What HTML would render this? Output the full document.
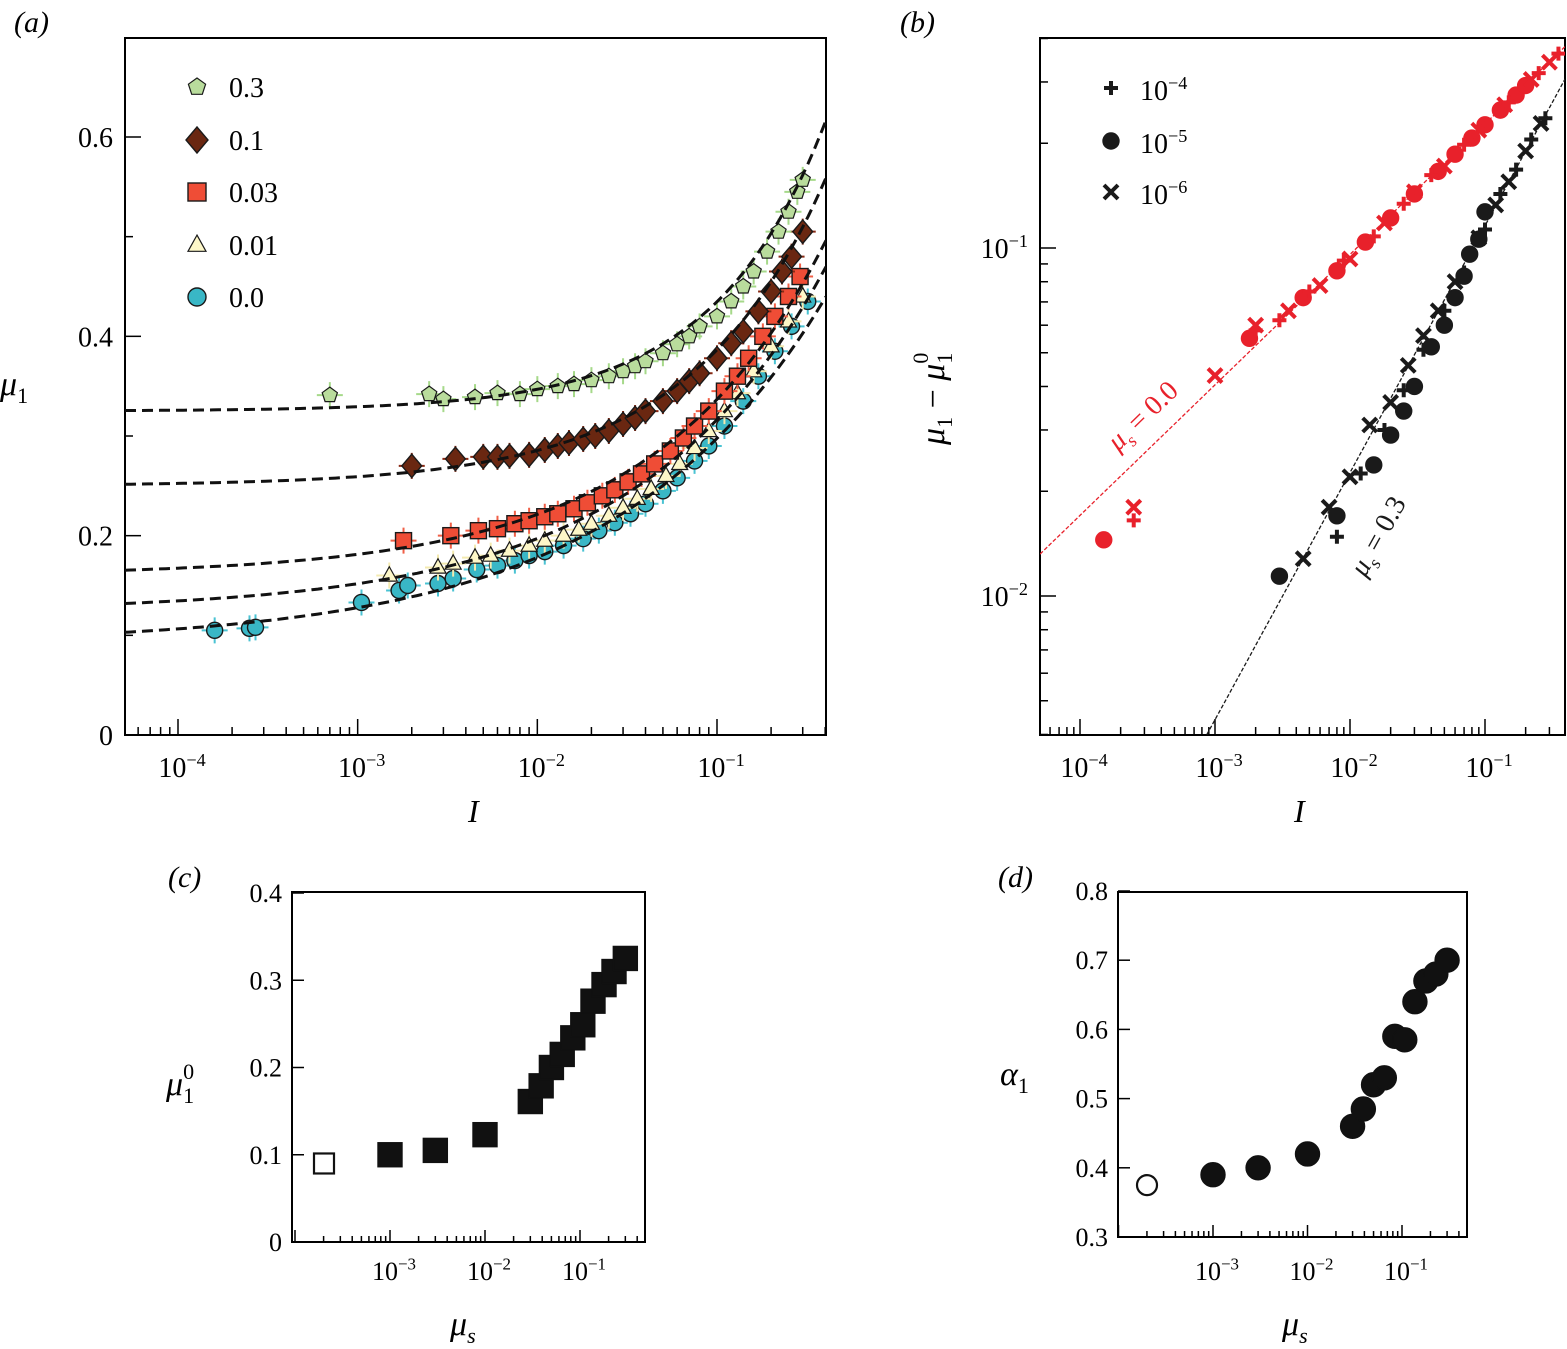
<!DOCTYPE html>
<html><head><meta charset="utf-8"><style>
html,body{margin:0;padding:0;background:#fff}
svg{display:block;font-family:"Liberation Serif",serif}
</style></head><body>
<svg id="fig" width="1567" height="1349" viewBox="0 0 1567 1349" xmlns="http://www.w3.org/2000/svg">
<rect width="1567" height="1349" fill="#fff"/>
<g id="ga"></g>
<g id="gb"></g>
<g id="gc"></g>
<g id="gd"></g>
</svg>
<script>
// ---------- Panel (a) data ----------
const aSeriesNames = ["0.3","0.1","0.03","0.01","0.0"];
const aI_03 = [7e-4,2.5e-3,3e-3,4.5e-3,6e-3,8e-3,0.01,0.013,0.016,0.02,0.025,0.03,0.035,0.04,0.05,0.06,0.07,0.08,0.1,0.12,0.14,0.16,0.19,0.22,0.25,0.28,0.3];
const aM_03 = [0.341,0.342,0.337,0.339,0.343,0.342,0.347,0.35,0.352,0.356,0.36,0.365,0.37,0.375,0.383,0.392,0.40,0.41,0.42,0.435,0.45,0.465,0.485,0.505,0.525,0.545,0.557];
const aI_01 = [2e-3,3.5e-3,5e-3,6e-3,7e-3,9e-3,0.011,0.013,0.015,0.018,0.021,0.025,0.03,0.035,0.04,0.05,0.06,0.07,0.08,0.1,0.12,0.14,0.17,0.2,0.23,0.26,0.3];
const aM_01 = [0.27,0.277,0.279,0.279,0.28,0.281,0.286,0.29,0.293,0.297,0.30,0.305,0.312,0.318,0.325,0.335,0.345,0.355,0.363,0.378,0.393,0.405,0.425,0.445,0.465,0.48,0.505];
const aI_003 = [1.8e-3,3.3e-3,4.7e-3,6e-3,7.5e-3,0.009,0.011,0.013,0.016,0.019,0.023,0.027,0.032,0.038,0.045,0.055,0.065,0.075,0.09,0.11,0.13,0.15,0.18,0.21,0.25,0.29];
const aM_003 = [0.195,0.2,0.205,0.207,0.212,0.215,0.219,0.222,0.227,0.233,0.24,0.246,0.254,0.262,0.272,0.285,0.298,0.31,0.325,0.345,0.36,0.378,0.4,0.42,0.44,0.46];
const aI_001 = [1.5e-3,2.8e-3,3.4e-3,4.5e-3,5.5e-3,7e-3,0.009,0.011,0.014,0.017,0.02,0.025,0.03,0.036,0.043,0.052,0.062,0.075,0.09,0.11,0.13,0.16,0.2,0.25,0.3];
const aM_001 = [0.16,0.168,0.172,0.178,0.18,0.185,0.19,0.195,0.2,0.206,0.212,0.22,0.228,0.237,0.247,0.26,0.272,0.288,0.305,0.325,0.343,0.365,0.39,0.415,0.44];
const aI_0 = [1.6e-4,2.5e-4,2.7e-4,1.05e-3,1.7e-3,1.9e-3,2.8e-3,3.4e-3,4.6e-3,6e-3,7.5e-3,0.009,0.011,0.014,0.018,0.022,0.027,0.033,0.04,0.05,0.06,0.075,0.09,0.11,0.14,0.17,0.21,0.26,0.32];
const aM_0 = [0.105,0.107,0.108,0.133,0.145,0.15,0.152,0.157,0.166,0.17,0.175,0.18,0.184,0.19,0.197,0.205,0.213,0.222,0.232,0.245,0.258,0.275,0.29,0.31,0.335,0.36,0.385,0.41,0.435];
// fit parameters mu0, c, alpha for dashed curves
const aFitMu0 = [0.325,0.250,0.160,0.124,0.091];
const aFitC = [0.55,0.525,0.51,0.506,0.49];
const aFitAlpha = [0.70,0.585,0.46,0.42,0.375];
const aYTicks = [0,0.2,0.4,0.6];
const aXTicks = [-4,-3,-2,-1];

// ---------- Panel (b) data ----------
const bRedCircI = [1.5e-4,1.8e-3,4.5e-3,8e-3,0.013,0.02,0.03,0.045,0.06,0.08,0.1,0.13,0.17,0.2];
const bRedCircV = [0.0145,0.055,0.072,0.086,0.104,0.122,0.143,0.166,0.186,0.207,0.226,0.249,0.275,0.293];
const bRedPlusI = [2.5e-4,2e-3,3e-3,5e-3,9e-3,0.015,0.025,0.04,0.07,0.1,0.15,0.25,0.35];
const bRedPlusV = [0.0165,0.058,0.062,0.075,0.092,0.108,0.134,0.162,0.198,0.228,0.262,0.318,0.362];
const bRedCrossI = [2.5e-4,1e-3,2e-3,3.5e-3,6e-3,0.01,0.018,0.03,0.05,0.09,0.14,0.22,0.3];
const bRedCrossV = [0.018,0.043,0.06,0.066,0.078,0.093,0.118,0.145,0.172,0.218,0.258,0.305,0.342];
const bBlkCircI = [3e-3,8e-3,0.015,0.02,0.025,0.03,0.04,0.05,0.06,0.07,0.077,0.09,0.1];
const bBlkCircV = [0.0114,0.017,0.0238,0.029,0.034,0.04,0.052,0.06,0.072,0.083,0.096,0.106,0.127];
const bBlkPlusI = [8e-3,0.012,0.018,0.025,0.035,0.05,0.07,0.1,0.13,0.17,0.22,0.28];
const bBlkPlusV = [0.0148,0.0225,0.03,0.039,0.051,0.066,0.085,0.113,0.143,0.168,0.205,0.236];
const bBlkCrossI = [4.5e-3,7e-3,0.01,0.014,0.02,0.027,0.035,0.045,0.06,0.09,0.12,0.15,0.2,0.26];
const bBlkCrossV = [0.0128,0.018,0.022,0.031,0.036,0.046,0.056,0.066,0.08,0.107,0.133,0.155,0.19,0.228];
const bFitC = [0.539,0.595];
const bFitAlpha = [0.375,0.71];
const bXTicks = [-4,-3,-2,-1];
const bYTicks = [-2,-1];

// ---------- Panel (c) data ----------
const cMuS = [1e-3,3e-3,1e-2,0.03,0.039,0.05,0.065,0.084,0.107,0.137,0.179,0.228,0.30];
const cMu0 = [0.1,0.105,0.123,0.161,0.179,0.2,0.215,0.234,0.249,0.276,0.295,0.31,0.325];
const cOpenVal = [0.09];
const cYTicks = [0,0.1,0.2,0.3,0.4];
const cXTicks = [-3,-2,-1];

// ---------- Panel (d) data ----------
const dMuS = [1e-3,3e-3,1e-2,0.03,0.039,0.05,0.065,0.084,0.107,0.137,0.179,0.228,0.30];
const dAlpha = [0.39,0.40,0.42,0.46,0.485,0.52,0.53,0.59,0.585,0.64,0.67,0.68,0.70];
const dOpenVal = [0.375];
const dYTicks = [0.3,0.4,0.5,0.6,0.7,0.8];
const dXTicks = [-3,-2,-1];

const NS = "http://www.w3.org/2000/svg";
function mk(parent, tag, attrs, text){
  const e = document.createElementNS(NS, tag);
  for (const k in attrs) e.setAttribute(k, attrs[k]);
  if (text !== undefined) e.textContent = text;
  parent.appendChild(e);
  return e;
}
function lin(d0,d1,p0,p1){ return v => p0 + (v-d0)/(d1-d0)*(p1-p0); }
function logs(d0,d1,p0,p1){ return v => p0 + (Math.log10(v)-d0)/(d1-d0)*(p1-p0); }

function marker(g, type, x, y, s, fill, stroke){
  let e;
  if (type === "circle") e = mk(g,"circle",{cx:x,cy:y,r:s,fill:fill,stroke:stroke,"stroke-width":1.4});
  else if (type === "square") e = mk(g,"rect",{x:x-s,y:y-s,width:2*s,height:2*s,fill:fill,stroke:stroke,"stroke-width":1.4});
  else if (type === "diamond") e = mk(g,"polygon",{points:`${x},${y-s*1.3} ${x+s*1.1},${y} ${x},${y+s*1.3} ${x-s*1.1},${y}`,fill:fill,stroke:stroke,"stroke-width":1.4});
  else if (type === "triangle") e = mk(g,"polygon",{points:`${x},${y-s*1.1} ${x+s},${y+s*0.7} ${x-s},${y+s*0.7}`,fill:fill,stroke:stroke,"stroke-width":1.2});
  else if (type === "pentagon"){
    let p=[]; for(let i=0;i<5;i++){const a=-Math.PI/2+i*2*Math.PI/5;p.push((x+s*Math.cos(a)).toFixed(1)+","+(y+s*Math.sin(a)).toFixed(1));}
    e = mk(g,"polygon",{points:p.join(" "),fill:fill,stroke:stroke,"stroke-width":1.2});
  }
  else if (type === "plus") e = mk(g,"path",{d:`M${x-s},${y}H${x+s}M${x},${y-s}V${y+s}`,stroke:fill,"stroke-width":4,fill:"none"});
  else if (type === "cross") e = mk(g,"path",{d:`M${x-s},${y-s}L${x+s},${y+s}M${x-s},${y+s}L${x+s},${y-s}`,stroke:fill,"stroke-width":4,fill:"none"});
  return e;
}

function axisBox(g, x0,y0,x1,y1){
  const r = mk(g,"rect",{x:x0,y:y0,width:x1-x0,height:y1-y0,fill:"none",stroke:"#000","stroke-width":2});
  
  
}
function logXTicks(g, sx, dmin, dmax, yb, major, label, fs){
  for (let d=Math.floor(dmin); d<=Math.ceil(dmax); d++){
    for (let m=1;m<10;m++){
      const v = m*Math.pow(10,d); const lv=Math.log10(v);
      if (lv<dmin-1e-9||lv>dmax+1e-9) continue;
      const x = sx(v); const len = m===1?major:major/2;
      mk(g,"line",{x1:x,y1:yb,x2:x,y2:yb-len,stroke:"#000","stroke-width":1.5});
    }
  }
}
function logYTicks(g, sy, dmin, dmax, xl, major){
  for (let d=Math.floor(dmin); d<=Math.ceil(dmax); d++){
    for (let m=1;m<10;m++){
      const v = m*Math.pow(10,d); const lv=Math.log10(v);
      if (lv<dmin-1e-9||lv>dmax+1e-9) continue;
      const y = sy(v); const len = m===1?major:major/2;
      mk(g,"line",{x1:xl,y1:y,x2:xl+len,y2:y,stroke:"#000","stroke-width":1.5});
    }
  }
}
function powLabel(g, x, y, exp, fs, anchor){
  const t = mk(g,"text",{x:x,y:y,"font-size":fs,"text-anchor":anchor||"middle"});
  const a = document.createElementNS(NS,"tspan"); a.textContent="10"; t.appendChild(a);
  const b = document.createElementNS(NS,"tspan"); b.setAttribute("dy",-fs*0.4); b.setAttribute("font-size",fs*0.65); b.textContent="\u2212"+Math.abs(exp); t.appendChild(b);
  return t;
}

// ================= Panel (a) =================
(function(){
  const g = document.getElementById("ga");
  const X0=125,X1=826,Y0=38,Y1=735;
  const sx = logs(-4,-1,178,717);
  const sy = lin(0,0.6,735,137);
  const dmin = (X0-178)/179.67-4, dmax=(X1-178)/179.67-4;
  axisBox(g,X0,Y0,X1,Y1);
  logXTicks(g,sx,dmin,dmax,Y1,16);
  aXTicks.forEach(d=>{ const t=powLabel(g,sx(10**d)+4,777,d,28);
      });
  aYTicks.forEach(v=>{ mk(g,"line",{x1:X0,y1:sy(v),x2:X0+16,y2:sy(v),stroke:"#000","stroke-width":1.5});
    const t=mk(g,"text",{x:X0-12,y:sy(v)+10,"font-size":28,"text-anchor":"end"},v===0?"0":v.toFixed(1));
      });
  [0.1,0.3,0.5].forEach(v=>mk(g,"line",{x1:X0,y1:sy(v),x2:X0+8,y2:sy(v),stroke:"#000","stroke-width":1.5}));
  const pl=mk(g,"text",{x:14,y:32,"font-size":30,"font-style":"italic"},"(a)");
   
  const yl=mk(g,"text",{x:0,y:395,"font-size":34,"font-style":"italic"},"μ");
  const ys=mk(g,"tspan",{"font-size":22,"font-style":"normal",dy:8},"1"); yl.appendChild(ys);
   
  const xl=mk(g,"text",{x:468,y:822,"font-size":32,"font-style":"italic"},"I");
   

  const clip = mk(g,"clipPath",{id:"clipA"}); mk(clip,"rect",{x:X0,y:Y0,width:X1-X0,height:Y1-Y0});
  const types=["pentagon","diamond","square","triangle","circle"];
  const fills=["#b9dc9c","#6a2711","#ef4d36","#fdf7c8","#39b7c6"];
  const ebc=["#a6d98a","#8a2a14","#f06048","#f3eab0","#4ac3d3"];
  const Is=[aI_03,aI_01,aI_003,aI_001,aI_0], Ms=[aM_03,aM_01,aM_003,aM_001,aM_0];
  const sizes=[8,9,8,8,8];
  for (let k=4;k>=0;k--){
    const sg = mk(g,"g",{"clip-path":"url(#clipA)"});
    
    
    Is[k].forEach((I,i)=>{
      const x=sx(I), y=sy(Ms[k][i]);
      mk(sg,"path",{d:`M${x-13},${y}H${x+13}M${x},${y-13}V${y+13}`,stroke:ebc[k],"stroke-width":2,fill:"none"});
    });
    Is[k].forEach((I,i)=>{
      const m=marker(sg,types[k],sx(I),sy(Ms[k][i]),sizes[k],fills[k],"#1a1a1a");
      
      
    });
  }
  for (let k=0;k<5;k++){
    let d="";
    for (let j=0;j<=120;j++){ const lv=dmin+(dmax-dmin)*j/120; const I=10**lv;
      const mu=aFitMu0[k]+aFitC[k]*Math.pow(I,aFitAlpha[k]);
      d+=(j?"L":"M")+sx(I).toFixed(1)+","+sy(mu).toFixed(1); }
    const p=mk(g,"path",{d:d,fill:"none",stroke:"#111","stroke-width":3,"stroke-dasharray":"11,6","clip-path":"url(#clipA)"});
    
    
  }
  const lg=mk(g,"g",{});  
  const ly=[87,140,192,245,297];
  for (let k=0;k<5;k++){
    marker(lg,types[k],197,ly[k],k===1?10:9,fills[k],"#1a1a1a");
    const t=mk(lg,"text",{x:229,y:ly[k]+10,"font-size":28},aSeriesNames[k]);
     
  }
})();

// ================= Panel (b) =================
(function(){
  const g=document.getElementById("gb");
  const X0=1040,X1=1565,Y0=38,Y1=735;
  const sx=logs(-4,-1,1080,1485);
  const sy=logs(-2,-1,596,248);
  const dmin=(X0-1080)/135-4, dmax=(X1-1080)/135-4;
  const ymin=-2-(Y1-596)/348, ymax=-1+(248-Y0)/348;
  axisBox(g,X0,Y0,X1,Y1);
  logXTicks(g,sx,dmin,dmax,Y1,16);
  logYTicks(g,sy,ymin,ymax,X0,16);
  bXTicks.forEach(d=>{const t=powLabel(g,sx(10**d)+4,777,d,28);
     });
  bYTicks.forEach(d=>{const t=powLabel(g,X0-12,sy(10**d)+10,d,28,"end");
     });
  const pl=mk(g,"text",{x:900,y:32,"font-size":30,"font-style":"italic"},"(b)");
   
  const yl=mk(g,"text",{x:0,y:0,"font-size":34,"font-style":"italic",transform:"translate(944,445) rotate(-90)"});
  yl.appendChild(document.createTextNode("μ"));
  mk(yl,"tspan",{"font-size":22,"font-style":"normal",dy:8},"1");
  mk(yl,"tspan",{dy:-8,"font-style":"normal"}," − ");
  mk(yl,"tspan",{},"μ");
  mk(yl,"tspan",{"font-size":22,"font-style":"normal",dy:8},"1");
  mk(yl,"tspan",{"font-size":22,"font-style":"normal",dy:-24,dx:-11},"0");
   
  const xl=mk(g,"text",{x:1294,y:822,"font-size":32,"font-style":"italic"},"I");
   
  const clip=mk(g,"clipPath",{id:"clipB"}); mk(clip,"rect",{x:X0,y:Y0,width:X1-X0,height:Y1-Y0});
  const cols=["#e8212b","#1a1a1a"];
  for (let k=0;k<2;k++){
    let d="";
    for (let j=0;j<=40;j++){const I=10**(dmin+(dmax-dmin)*j/40);
      d+=(j?"L":"M")+sx(I).toFixed(1)+","+sy(bFitC[k]*Math.pow(I,bFitAlpha[k])).toFixed(1);}
    const p=mk(g,"path",{d:d,fill:"none",stroke:cols[k],"stroke-width":1.3,"stroke-dasharray":"4,2","clip-path":"url(#clipB)"});
    
    
  }
  const sets=[[bRedCircI,bRedCircV,"circle",0],[bRedPlusI,bRedPlusV,"plus",0],[bRedCrossI,bRedCrossV,"cross",0],
              [bBlkCircI,bBlkCircV,"circle",1],[bBlkPlusI,bBlkPlusV,"plus",1],[bBlkCrossI,bBlkCrossV,"cross",1]];
  sets.forEach(s=>{
    const sg=mk(g,"g",{"clip-path":"url(#clipB)"});
    
    
    s[0].forEach((I,i)=>{
      const m=marker(sg,s[2],sx(I),sy(s[1][i]),s[2]==="circle"?8:7,cols[s[3]],cols[s[3]]);
      
      
    });
  });
  const r1=mk(g,"text",{x:0,y:0,"font-size":28,fill:"#e8212b",transform:"translate(1118,452) rotate(-44)"});
  mk(r1,"tspan",{"font-style":"italic"},"μ"); mk(r1,"tspan",{"font-size":18,dy:7,"font-style":"italic"},"s"); mk(r1,"tspan",{dy:-7}," = 0.0");
   
  const r2=mk(g,"text",{x:0,y:0,"font-size":28,fill:"#1a1a1a",transform:"translate(1365,578) rotate(-61)"});
  mk(r2,"tspan",{"font-style":"italic"},"μ"); mk(r2,"tspan",{"font-size":18,dy:7,"font-style":"italic"},"s"); mk(r2,"tspan",{dy:-7}," = 0.3");
   
  const lg=mk(g,"g",{});  
  const lt=["plus","circle","cross"], ly=[88,141,192], le=[-4,-5,-6];
  for(let k=0;k<3;k++){
    marker(lg,lt[k],1111,ly[k],lt[k]==="circle"?8:7,"#1a1a1a","#1a1a1a");
    const t=powLabel(lg,1140,ly[k]+12,le[k],28,"start");
     
  }
})();

// ================= Panels (c),(d) =================
function smallPanel(gid, X0,Y0,X1,Y1, ylin, sxDef, xs, ys, openVal, openX, yTicks, xTicks, type, label, lx, ytitle, ytitleSup, ytx, yty, xtx){
  const g=document.getElementById(gid);
  const sx=logs(-3,-1,sxDef[0],sxDef[1]);
  const sy=lin(ylin[0],ylin[1],ylin[2],ylin[3]);
  axisBox(g,X0,Y0,X1,Y1);
  const dmin=(X0-sxDef[0])/((sxDef[1]-sxDef[0])/2)-3, dmax=(X1-sxDef[0])/((sxDef[1]-sxDef[0])/2)-3;
  logXTicks(g,sx,dmin,dmax,Y1,12);
  xTicks.forEach(d=>{const t=powLabel(g,sx(10**d)+4,1280,d,26);
     });
  yTicks.forEach(v=>{mk(g,"line",{x1:X0,y1:sy(v),x2:X0+12,y2:sy(v),stroke:"#000","stroke-width":1.5});
    const t=mk(g,"text",{x:X0-10,y:sy(v)+9,"font-size":26,"text-anchor":"end"},v===0?"0":v.toFixed(1));
     });
  const pl=mk(g,"text",{x:lx,y:887,"font-size":30,"font-style":"italic"},label);
   
  const yl=mk(g,"text",{x:ytx,y:yty,"font-size":34,"font-style":"italic"},ytitle);
  mk(yl,"tspan",{"font-size":22,"font-style":"normal",dy:8},"1");
  if (ytitleSup) mk(yl,"tspan",{"font-size":22,"font-style":"normal",dy:-24,dx:-11},"0");
   
  const xl=mk(g,"text",{x:xtx,y:1335,"font-size":34,"font-style":"italic"},"μ");
  mk(xl,"tspan",{"font-size":22,dy:8},"s");
   
  const sg=mk(g,"g",{});  
  const o=marker(sg,type,openX,sy(openVal[0]),10,"#fff","#111");
  o.setAttribute('stroke-width',2.2);
  
  
  xs.forEach((v,i)=>{
    const m=marker(sg,type,sx(v),sy(ys[i]),12,"#111","#111");
    
    
  });
}
smallPanel("gc",292,892,645,1242,[0,0.4,1242,893],[390,580],cMuS,cMu0,cOpenVal,324,cYTicks,cXTicks,"square","(c)",168,"μ",true,166,1095,450);
smallPanel("gd",1118,892,1467,1237,[0.3,0.8,1237,891],[1213,1402],dMuS,dAlpha,dOpenVal,1147,dYTicks,dXTicks,"circle","(d)",998,"α",false,1000,1085,1282);
</script>
</body></html>
